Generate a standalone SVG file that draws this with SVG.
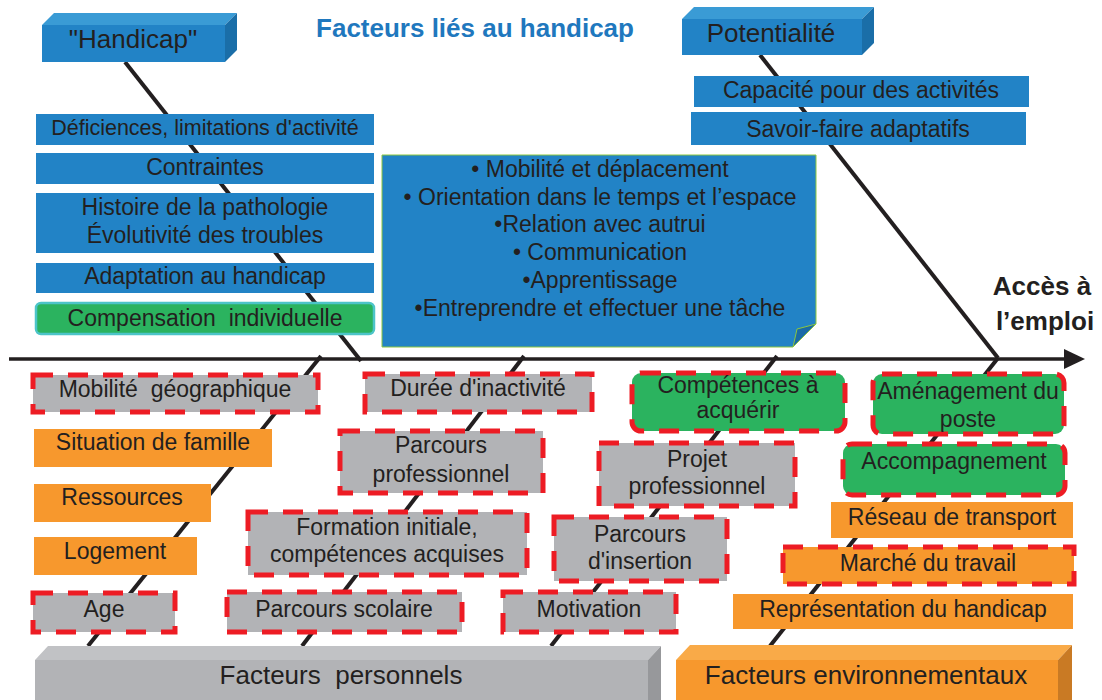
<svg xmlns="http://www.w3.org/2000/svg" width="1102" height="700" viewBox="0 0 1102 700">
<style>
text{font-family:"Liberation Sans",Arial,sans-serif;fill:#231f20;text-anchor:middle;font-size:23px}
.big{font-size:26px}
.title{font-size:26px;font-weight:bold;fill:#1f78be}
.acc{font-size:26px;font-weight:bold}
.blue{fill:#2283c6}
.bt{fill:#3a9bd5}
.bs{fill:#1a6ea8}
.gray{fill:#b2b3b6}
.orange{fill:#f7982d}
.green{fill:#2bb35f}
.dash{stroke:#ed1c24;stroke-width:5;stroke-dasharray:20 15}
.br{stroke:#231f20;stroke-width:4;fill:none}
</style>
<rect width="1102" height="700" fill="#fff"/>
<g id="connectors">
<line class="br" x1="125" y1="62" x2="361" y2="361"/>
<line class="br" x1="760" y1="55" x2="998" y2="358"/>
<line class="br" x1="321" y1="356" x2="88" y2="646"/>
<line class="br" x1="524" y1="356" x2="302" y2="646"/>
<line class="br" x1="777" y1="356" x2="551" y2="646"/>
<line class="br" x1="998" y1="358" x2="770" y2="646"/>
<line x1="9" y1="359" x2="1068" y2="359" stroke="#231f20" stroke-width="3.5"/>
<polygon points="1085,359 1064,349 1064,369" fill="#231f20"/>
</g>
<text class="title" x="475" y="37">Facteurs liés au handicap</text>
<g id="handicap">
<polygon class="bt" points="42,25 54,13 237,13 225,25"/>
<polygon class="bs" points="225,25 237,13 237,50 225,62"/>
<rect class="blue" x="42" y="25" width="183" height="37"/>
<text class="big" x="133" y="48">"Handicap"</text>
</g>
<g id="potentialite">
<polygon class="bt" points="682,19 694,7 874,7 862,19"/>
<polygon class="bs" points="862,19 874,7 874,43 862,55"/>
<rect class="blue" x="682" y="19" width="180" height="36"/>
<text class="big" x="771" y="42">Potentialité</text>
</g>
<g id="deficiences"><rect class="blue" x="36" y="114" width="338" height="31"/><text x="205" y="135" style="font-size:21.5px">Déficiences, limitations d'activité</text></g>
<g id="contraintes"><rect class="blue" x="36" y="153" width="338" height="31"/><text x="205" y="175">Contraintes</text></g>
<g id="histoire"><rect class="blue" x="36" y="193" width="338" height="60"/><text x="205" y="215">Histoire de la pathologie</text><text x="205" y="243">Évolutivité des troubles</text></g>
<g id="adaptation"><rect class="blue" x="36" y="263" width="338" height="30"/><text x="205" y="284">Adaptation au handicap</text></g>
<g id="compensation"><rect x="36" y="303" width="338" height="31" rx="5" fill="#2bb35f" stroke="#4cc4c8" stroke-width="2.5"/><text x="205" y="326" xml:space="preserve">Compensation  individuelle</text></g>
<g id="capacite"><rect class="blue" x="694" y="76" width="335" height="31"/><text x="861" y="98">Capacité pour des activités</text></g>
<g id="savoir"><rect class="blue" x="691" y="112" width="335" height="33"/><text x="858" y="137">Savoir-faire adaptatifs</text></g>
<g id="activites">
<polygon points="382,155 816,155 816,324 793,347 382,347" fill="#2283c6" stroke="#8cc63f" stroke-width="1"/>
<polygon points="816,324 797,329 793,347" fill="#1a6aa6" stroke="#8cc63f" stroke-width="1"/>
<text x="600" y="177">• Mobilité et déplacement</text>
<text x="600" y="205">• Orientation dans le temps et l’espace</text>
<text x="600" y="232">•Relation avec autrui</text>
<text x="600" y="260">• Communication</text>
<text x="600" y="288">•Apprentissage</text>
<text x="600" y="316">•Entreprendre et effectuer une tâche</text>
</g>
<text class="acc" x="1042" y="295">Accès à</text>
<text class="acc" x="1045" y="330">l’emploi</text>
<g id="mobilite-geo"><rect class="gray dash" x="33" y="375" width="285" height="37"/><text x="175" y="397" xml:space="preserve">Mobilité  géographique</text></g>
<g id="situation"><rect class="orange" x="34" y="429" width="238" height="38"/><text x="153" y="450">Situation de famille</text></g>
<g id="ressources"><rect class="orange" x="34" y="484" width="177" height="38"/><text x="122" y="505">Ressources</text></g>
<g id="logement"><rect class="orange" x="34" y="537" width="163" height="38"/><text x="115" y="559">Logement</text></g>
<g id="age"><rect class="gray dash" x="33" y="593" width="142" height="39"/><text x="104" y="617">Age</text></g>
<g id="duree"><rect class="gray dash" x="365" y="374" width="227" height="38"/><text x="478" y="396">Durée d'inactivité</text></g>
<g id="parcours-pro"><rect class="gray dash" x="340" y="431" width="203" height="62"/><text x="441" y="453">Parcours</text><text x="441" y="482">professionnel</text></g>
<g id="formation"><rect class="gray dash" x="248" y="512" width="279" height="63"/><text x="387" y="535">Formation initiale,</text><text x="387" y="562">compétences acquises</text></g>
<g id="scolaire"><rect class="gray dash" x="227" y="592" width="235" height="40"/><text x="344" y="617">Parcours scolaire</text></g>
<g id="motivation"><rect class="gray dash" x="503" y="592" width="173" height="40"/><text x="589" y="617">Motivation</text></g>
<g id="insertion"><rect class="gray dash" x="554" y="517" width="173" height="64"/><text x="640" y="542">Parcours</text><text x="640" y="569">d'insertion</text></g>
<g id="projet"><rect class="gray dash" x="599" y="443" width="196" height="63"/><text x="697" y="467">Projet</text><text x="697" y="494">professionnel</text></g>
<g id="competences"><rect class="green dash" x="632" y="373" width="213" height="58" rx="9"/><text x="738" y="393">Compétences à</text><text x="738" y="418">acquérir</text></g>
<g id="amenagement"><rect class="green dash" x="873" y="374" width="191" height="60" rx="9"/><text x="968" y="399">Aménagement du</text><text x="968" y="427">poste</text></g>
<g id="accompagnement"><rect class="green dash" x="843" y="444" width="222" height="51" rx="9"/><text x="954" y="469">Accompagnement</text></g>
<g id="reseau"><rect class="orange" x="831" y="502" width="242" height="36"/><text x="952" y="525">Réseau de transport</text></g>
<g id="marche"><rect class="orange dash" x="783" y="547" width="291" height="37"/><text x="928" y="571">Marché du travail</text></g>
<g id="representation"><rect class="orange" x="733" y="594" width="340" height="35"/><text x="903" y="617">Représentation du handicap</text></g>
<g id="facteurs-personnels">
<polygon points="35,660 48,646 661,646 648,660" fill="#c1c2c5"/>
<polygon points="648,660 661,646 661,700 648,700" fill="#97989b"/>
<rect class="gray" x="35" y="660" width="613" height="45"/>
<text class="big" x="341" y="684" xml:space="preserve">Facteurs  personnels</text>
</g>
<g id="facteurs-env">
<polygon points="676,660 690,645 1072,645 1058,660" fill="#f9aa48"/>
<polygon points="1058,660 1072,645 1072,700 1058,700" fill="#c97a24"/>
<rect class="orange" x="676" y="660" width="382" height="45"/>
<text class="big" x="866" y="684">Facteurs environnementaux</text>
</g>
</svg>
